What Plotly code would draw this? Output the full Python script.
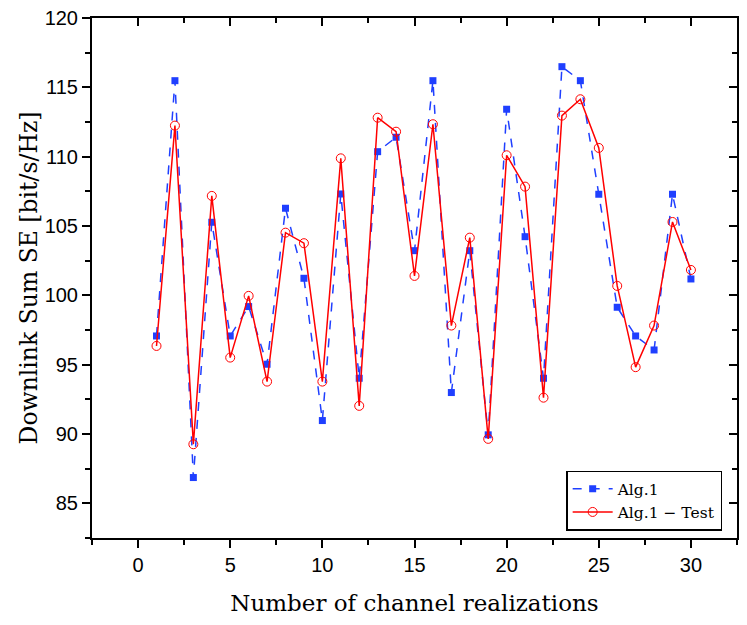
import plotly.graph_objects as go

realization = list(range(1, 31))

alg1 = [97.07, 115.48, 86.86, 105.27, 97.07, 99.19, 95.03, 106.28, 101.23, 90.97,
        107.31, 94.02, 110.36, 111.40, 103.22, 115.48, 92.99, 103.22, 89.94, 113.42,
        104.23, 94.02, 116.49, 115.48, 107.29, 99.14, 97.07, 96.06, 107.29, 101.18]

alg1_test = [96.35, 112.24, 89.26, 107.17, 95.51, 99.96, 93.78, 104.52, 103.76, 93.78,
             109.88, 92.03, 112.81, 111.80, 101.40, 112.34, 97.82, 104.16, 89.65, 110.10,
             107.84, 92.62, 112.96, 114.14, 110.63, 100.68, 94.82, 97.82, 105.29, 101.83]

serif = "DejaVu Serif"
sans = "Liberation Sans"

fig = go.Figure()

fig.add_trace(go.Scatter(
    x=realization, y=alg1, mode="lines+markers", name="Alg.1",
    line=dict(color="#1f3fff", width=1.5, dash="dash"),
    marker=dict(symbol="square", size=7, color="#1f3fff"),
))

fig.add_trace(go.Scatter(
    x=realization, y=alg1_test, mode="lines+markers", name="Alg.1 − Test",
    line=dict(color="#ff0000", width=1.5),
    marker=dict(symbol="circle-open", size=9, color="#ff0000", line=dict(width=1)),
))

axis_common = dict(
    showgrid=False, zeroline=False, showline=True, linecolor="black", linewidth=2,
    ticks="outside", ticklen=8, tickwidth=2, tickcolor="black", automargin=False,
    ticklabeloverflow="allow",
    tickfont=dict(family=sans, size=20, color="black"),
)

fig.update_layout(
    width=747, height=625,
    margin=dict(l=84, r=18, t=10, b=95),
    plot_bgcolor="white", paper_bgcolor="white",
    xaxis=dict(
        range=[-2.5, 32.5], tick0=0, dtick=5,
        minor=dict(ticks="outside", dtick=2.5, ticklen=5, tickwidth=2, tickcolor="black"),
        title=dict(text="Number of channel realizations",
                   font=dict(family=serif, size=23, color="black"), standoff=20),
        **axis_common,
    ),
    yaxis=dict(
        range=[82.5, 120], tick0=85, dtick=5,
        minor=dict(ticks="outside", dtick=2.5, ticklen=5, tickwidth=2, tickcolor="black"),
        title=dict(text="Downlink Sum SE [bit/s/Hz]",
                   font=dict(family=serif, size=23.5, color="black"), standoff=0),
        **axis_common,
    ),
    # top and right axes with inward ticks
    xaxis2=dict(
        overlaying="x", side="top", matches="x", range=[-2.5, 32.5], tick0=0, dtick=5,
        showgrid=False, zeroline=False, showline=True, linecolor="black", linewidth=2,
        ticks="inside", ticklen=8, tickwidth=2, tickcolor="black", showticklabels=False,
        automargin=False,
        minor=dict(ticks="inside", dtick=2.5, ticklen=5, tickwidth=2, tickcolor="black"),
    ),
    yaxis2=dict(
        overlaying="y", side="right", matches="y", range=[82.5, 120], tick0=85, dtick=5,
        showgrid=False, zeroline=False, showline=True, linecolor="black", linewidth=2,
        ticks="inside", ticklen=8, tickwidth=2, tickcolor="black", showticklabels=False,
        automargin=False,
        minor=dict(ticks="inside", dtick=2.5, ticklen=5, tickwidth=2, tickcolor="black"),
    ),
    legend=dict(
        x=0.977, y=0.014, xanchor="right", yanchor="bottom",
        bgcolor="white", bordercolor="black", borderwidth=1.5,
        font=dict(family=serif, size=15.5, color="black"),
        tracegroupgap=0, itemwidth=40,
    ),
)

# invisible trace so the top/right axes get drawn
fig.add_trace(go.Scatter(x=[None], y=[None], xaxis="x2", yaxis="y2",
                         showlegend=False, hoverinfo="skip"))

fig.write_html("out.html")
